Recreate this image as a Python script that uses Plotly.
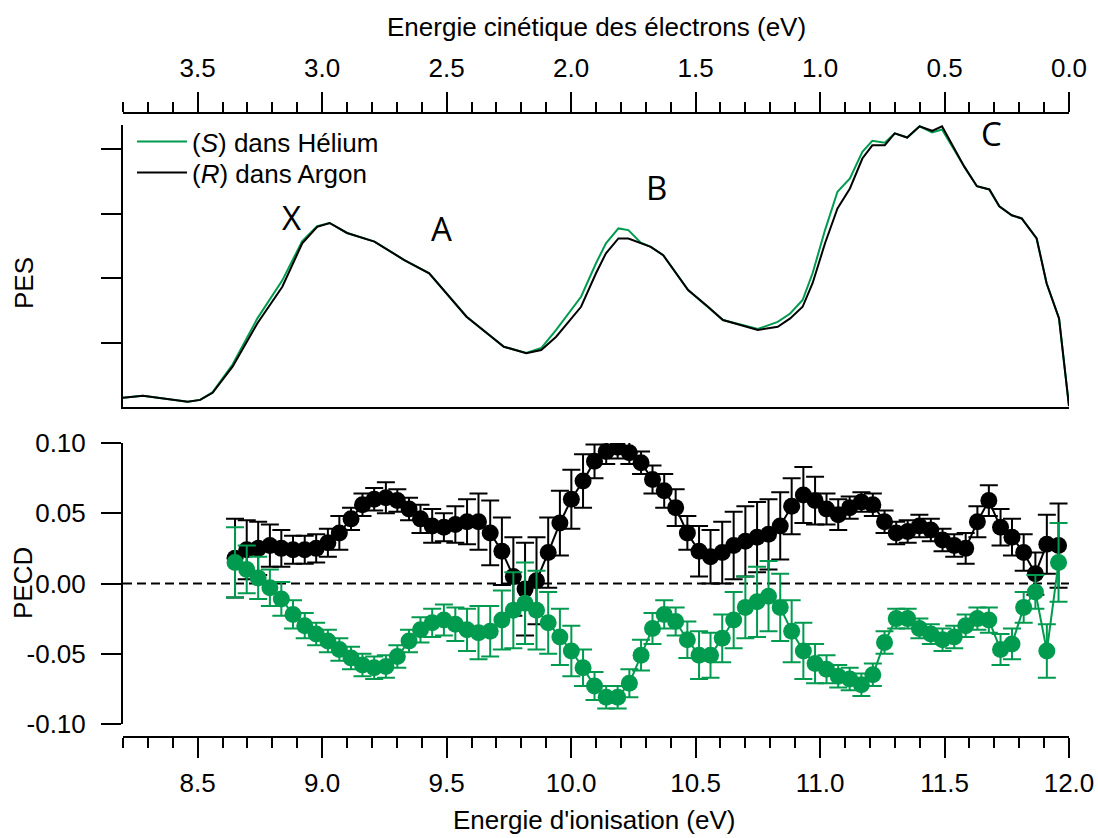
import plotly.graph_objects as go

# ---------------------------------------------------------------------------
# Photoelectron spectra (arbitrary units) versus ionisation energy (eV)
# ---------------------------------------------------------------------------
pes_ie = [8.20, 8.28, 8.46, 8.51, 8.56, 8.64, 8.74, 8.84, 8.92, 8.98,
          9.03, 9.10, 9.21, 9.33, 9.43, 9.51, 9.58, 9.73, 9.82, 9.88,
          9.94, 10.04, 10.10, 10.14, 10.19, 10.23, 10.28, 10.32, 10.37, 10.47,
          10.55, 10.61, 10.75, 10.83, 10.88, 10.93, 10.97, 11.02, 11.07, 11.12,
          11.17, 11.21, 11.26, 11.30, 11.35, 11.40, 11.45, 11.49, 11.58, 11.63,
          11.68, 11.72, 11.77, 11.81, 11.87, 11.91, 11.96, 12.00]

pes_s_helium = [0.029, 0.035, 0.016, 0.022, 0.046, 0.132, 0.275, 0.393, 0.515, 0.561,
                0.571, 0.540, 0.513, 0.456, 0.415, 0.342, 0.280, 0.187, 0.168, 0.183,
                0.239, 0.342, 0.446, 0.508, 0.554, 0.549, 0.510, 0.497, 0.471, 0.363,
                0.311, 0.270, 0.242, 0.264, 0.290, 0.332, 0.415, 0.549, 0.668, 0.709,
                0.792, 0.826, 0.820, 0.849, 0.836, 0.871, 0.852, 0.861, 0.745, 0.685,
                0.675, 0.623, 0.595, 0.585, 0.523, 0.384, 0.275, 0.003]

pes_r_argon = [0.029, 0.035, 0.016, 0.022, 0.044, 0.125, 0.260, 0.373, 0.508, 0.559,
               0.571, 0.540, 0.513, 0.456, 0.415, 0.342, 0.280, 0.187, 0.167, 0.177,
               0.218, 0.311, 0.415, 0.477, 0.523, 0.523, 0.508, 0.497, 0.471, 0.363,
               0.311, 0.270, 0.239, 0.249, 0.275, 0.311, 0.384, 0.508, 0.616, 0.678,
               0.771, 0.812, 0.812, 0.849, 0.836, 0.871, 0.857, 0.871, 0.745, 0.685,
               0.675, 0.623, 0.595, 0.585, 0.523, 0.384, 0.275, 0.003]

# ---------------------------------------------------------------------------
# PECD versus ionisation energy, with statistical error bars
# ---------------------------------------------------------------------------
pecd_ie = [8.650, 8.697, 8.743, 8.790, 8.836, 8.883, 8.930, 8.976, 9.023, 9.069,
           9.116, 9.162, 9.209, 9.256, 9.302, 9.349, 9.395, 9.442, 9.489, 9.535,
           9.582, 9.628, 9.675, 9.722, 9.768, 9.815, 9.861, 9.908, 9.955, 10.001,
           10.048, 10.094, 10.141, 10.187, 10.234, 10.281, 10.327, 10.374, 10.420, 10.467,
           10.514, 10.560, 10.607, 10.653, 10.700, 10.747, 10.793, 10.840, 10.886, 10.933,
           10.980, 11.026, 11.073, 11.119, 11.166, 11.212, 11.259, 11.306, 11.352, 11.399,
           11.445, 11.492, 11.539, 11.585, 11.632, 11.678, 11.725, 11.771, 11.818, 11.865,
           11.911, 11.958]

pecd_r_argon = [0.018, 0.024, 0.025, 0.027, 0.025, 0.024, 0.024, 0.025, 0.029, 0.036,
                0.046, 0.056, 0.060, 0.061, 0.059, 0.053, 0.046, 0.041, 0.040, 0.042,
                0.044, 0.044, 0.036, 0.023, 0.005, -0.004, 0.002, 0.022, 0.043, 0.060,
                0.073, 0.087, 0.094, 0.097, 0.093, 0.086, 0.074, 0.066, 0.054, 0.036,
                0.023, 0.019, 0.022, 0.027, 0.030, 0.033, 0.035, 0.041, 0.055, 0.063,
                0.059, 0.053, 0.049, 0.054, 0.058, 0.056, 0.044, 0.036, 0.037, 0.041,
                0.038, 0.031, 0.027, 0.025, 0.044, 0.059, 0.040, 0.033, 0.022, 0.007,
                0.028, 0.027]

pecd_r_argon_err = [0.028, 0.021, 0.019, 0.015, 0.013, 0.010, 0.010, 0.010, 0.010, 0.012,
                    0.008, 0.008, 0.008, 0.011, 0.008, 0.008, 0.010, 0.012, 0.010, 0.013,
                    0.016, 0.020, 0.023, 0.024, 0.028, 0.033, 0.031, 0.025, 0.023, 0.021,
                    0.019, 0.012, 0.009, 0.008, 0.008, 0.008, 0.010, 0.012, 0.013, 0.012,
                    0.018, 0.019, 0.022, 0.024, 0.025, 0.025, 0.025, 0.024, 0.020, 0.020,
                    0.017, 0.011, 0.011, 0.008, 0.007, 0.008, 0.008, 0.008, 0.008, 0.008,
                    0.008, 0.008, 0.008, 0.011, 0.011, 0.011, 0.013, 0.013, 0.013, 0.015,
                    0.021, 0.030]

pecd_s_helium = [0.015, 0.010, 0.004, -0.003, -0.011, -0.022, -0.030, -0.036, -0.041, -0.047,
                 -0.053, -0.058, -0.060, -0.059, -0.052, -0.041, -0.033, -0.028, -0.026, -0.029,
                 -0.033, -0.035, -0.034, -0.026, -0.019, -0.014, -0.019, -0.028, -0.038, -0.048,
                 -0.060, -0.073, -0.081, -0.081, -0.071, -0.051, -0.032, -0.022, -0.027, -0.040,
                 -0.051, -0.051, -0.039, -0.026, -0.017, -0.013, -0.009, -0.017, -0.034, -0.048,
                 -0.057, -0.061, -0.066, -0.068, -0.072, -0.065, -0.042, -0.025, -0.025, -0.032,
                 -0.036, -0.040, -0.038, -0.030, -0.025, -0.026, -0.047, -0.043, -0.017, -0.006,
                 -0.048, 0.015]

pecd_s_helium_err = [0.025, 0.017, 0.015, 0.013, 0.012, 0.010, 0.009, 0.008, 0.008, 0.008,
                     0.008, 0.008, 0.008, 0.008, 0.008, 0.008, 0.009, 0.010, 0.011, 0.012,
                     0.015, 0.019, 0.018, 0.021, 0.027, 0.029, 0.028, 0.022, 0.020, 0.018,
                     0.013, 0.010, 0.008, 0.008, 0.010, 0.011, 0.011, 0.010, 0.010, 0.013,
                     0.017, 0.016, 0.017, 0.020, 0.022, 0.025, 0.025, 0.024, 0.022, 0.020,
                     0.014, 0.010, 0.008, 0.008, 0.008, 0.008, 0.008, 0.007, 0.007, 0.007,
                     0.007, 0.008, 0.008, 0.008, 0.008, 0.009, 0.011, 0.011, 0.011, 0.012,
                     0.019, 0.028]

# Axis tick values
ie_ticks = [8.5, 9.0, 9.5, 10.0, 10.5, 11.0, 11.5, 12.0]
ke_ticks = [3.5, 3.0, 2.5, 2.0, 1.5, 1.0, 0.5, 0.0]
pecd_ticks = [-0.10, -0.05, 0.00, 0.05, 0.10]
pes_ticks = [0.2, 0.4, 0.6, 0.8]

GREEN = "#009B4E"
BLACK = "#000000"
FONT = "Liberation Sans, Arial, sans-serif"
FS = 26

W, H = 1098, 838
ML, MR = 123, 29
PLOT_W = W - ML - MR


def yfrac(row):
    """Paper fraction of a pixel row (top margin is zero)."""
    return 1 - row / H


def xfrac(col):
    """Paper fraction of a pixel column inside the plotting width."""
    return (col - ML) / PLOT_W


fig = go.Figure()

# --- PES (upper panel) ----------------------------------------------------
fig.add_trace(go.Scatter(
    x=pes_ie, y=pes_s_helium, mode="lines", xaxis="x3", yaxis="y2",
    line=dict(color=GREEN, width=2), name="(<i>S</i>) dans Hélium",
    legend="legend"))
fig.add_trace(go.Scatter(
    x=pes_ie, y=pes_r_argon, mode="lines", xaxis="x3", yaxis="y2",
    line=dict(color=BLACK, width=2), name="(<i>R</i>) dans Argon",
    legend="legend2"))

# empty trace that attaches the kinetic-energy scale to the upper panel
fig.add_trace(go.Scatter(x=[], y=[], xaxis="x2", yaxis="y2",
                         showlegend=False, hoverinfo="skip"))

# --- PECD (lower panel) ---------------------------------------------------
fig.add_trace(go.Scatter(
    x=pecd_ie, y=pecd_r_argon, mode="lines+markers", xaxis="x", yaxis="y",
    line=dict(color=BLACK, width=2),
    marker=dict(color=BLACK, size=17),
    error_y=dict(type="data", array=pecd_r_argon_err, color=BLACK,
                 thickness=2, width=9),
    showlegend=False))
fig.add_trace(go.Scatter(
    x=pecd_ie, y=pecd_s_helium, mode="lines+markers", xaxis="x", yaxis="y",
    line=dict(color=GREEN, width=2),
    marker=dict(color=GREEN, size=17),
    error_y=dict(type="data", array=pecd_s_helium_err, color=GREEN,
                 thickness=2, width=9),
    showlegend=False))

# zero reference of the PECD panel
fig.add_shape(type="line", xref="x", yref="y", x0=8.2, x1=12.0, y0=0, y1=0,
              line=dict(color=BLACK, width=2, dash="9px,5px"), layer="below")

tickfont = dict(family=FONT, size=FS, color=BLACK)
common = dict(showline=True, linecolor=BLACK, linewidth=2, showgrid=False,
              zeroline=False, ticks="outside", ticklen=20, tickwidth=2,
              tickcolor=BLACK, tickfont=tickfont)
minor = dict(ticks="outside", ticklen=10, tickwidth=2, tickcolor=BLACK,
             dtick=0.1, tick0=0, showgrid=False)
legend_style = dict(xanchor="left", yanchor="top", bgcolor="rgba(0,0,0,0)",
                    font=dict(family=FONT, size=FS, color=BLACK), itemwidth=50)

fig.update_layout(
    width=W, height=H,
    margin=dict(l=ML, r=MR, t=0, b=0, autoexpand=False),
    paper_bgcolor="white", plot_bgcolor="white",
    showlegend=True,
    legend=dict(legend_style, x=xfrac(132), y=yfrac(118)),
    legend2=dict(legend_style, x=xfrac(132), y=yfrac(149)),
    # ionisation energy (bottom)
    xaxis=dict(**common, range=[8.2, 12.0], anchor="free", position=yfrac(737),
               tickvals=ie_ticks, ticktext=[f"{v:.1f}" for v in ie_ticks],
               ticklabelstandoff=3, minor=dict(minor, tick0=8.2)),
    # kinetic energy of the electrons (top)
    xaxis2=dict(**common, range=[3.8, 0.0], overlaying="x3", side="top",
                anchor="free", position=yfrac(113),
                tickvals=ke_ticks, ticktext=[f"{v:.1f}" for v in ke_ticks],
                ticklabelstandoff=5, minor=minor),
    # baseline of the PES panel
    xaxis3=dict(showline=True, linecolor=BLACK, linewidth=2, showgrid=False,
                zeroline=False, ticks="", showticklabels=False,
                range=[8.2, 12.0], matches="x", anchor="y2"),
    yaxis=dict(**common, domain=[yfrac(724), yfrac(443)], range=[-0.1, 0.1],
               anchor="x", tickvals=pecd_ticks,
               ticktext=[f"{v:.2f}" for v in pecd_ticks],
               ticklabelstandoff=10),
    yaxis2=dict(**common, domain=[yfrac(407), yfrac(125)], range=[0, 0.875],
                anchor="x3", tickvals=pes_ticks, showticklabels=False),
)

# axis titles
title_font = dict(family=FONT, size=FS, color=BLACK)
fig.add_annotation(text="Energie cinétique des électrons (eV)", xref="paper", yref="paper",
                   x=xfrac(596), y=yfrac(27), showarrow=False, font=title_font,
                   xanchor="center", yanchor="middle")
fig.add_annotation(text="Energie d'ionisation (eV)", xref="paper", yref="paper",
                   x=xfrac(594), y=yfrac(820), showarrow=False, font=title_font,
                   xanchor="center", yanchor="middle")
fig.add_annotation(text="PECD", xref="paper", yref="paper", textangle=-90,
                   x=xfrac(23), y=yfrac(583), showarrow=False, font=title_font,
                   xanchor="center", yanchor="middle")
fig.add_annotation(text="PES", xref="paper", yref="paper", textangle=-90,
                   x=xfrac(24), y=yfrac(283), showarrow=False, font=title_font,
                   xanchor="center", yanchor="middle")

# electronic band labels on the PES
band_font = dict(family="Open Sans, sans-serif", size=33, color=BLACK)
for label, ie, level in [("X", 8.875, 0.589), ("A", 9.478, 0.555),
                         ("B", 10.342, 0.682), ("C", 11.688, 0.850)]:
    fig.add_annotation(text=label, xref="x3", yref="y2", x=ie, y=level,
                       showarrow=False, font=band_font,
                       xanchor="center", yanchor="middle")

fig.write_html("out.html")
